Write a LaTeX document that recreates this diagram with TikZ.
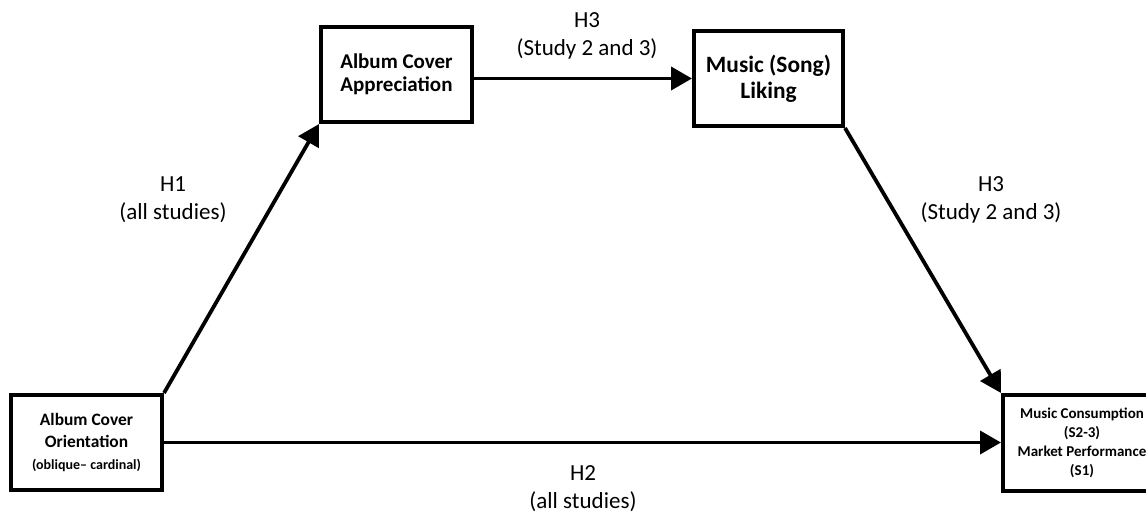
\documentclass[tikz,border=0pt]{standalone}
\usepackage{fontspec}
\setmainfont{Carlito}
\usetikzlibrary{arrows.meta}

\begin{document}
\begin{tikzpicture}[x=0.5pt, y=-0.5pt,
  box/.style={draw, line width=2pt, minimum width=75.5pt, minimum height=47.5pt, align=center, inner sep=2pt},
  link/.style={line width=1.9pt, -{Triangle[length=10.5pt, width=11.5pt]}},
  hyp/.style={align=center, font=\fontsize{11.5}{14}\selectfont}]
  \clip (0,0) rectangle (1146,515);
  \node[box, font=\bfseries\fontsize{8.7}{10.8}\selectfont] (orient) at (86.5,442.5) {Album Cover\\Orientation\\{\fontsize{7}{9}\selectfont (oblique– cardinal)}};
  \node[box, font=\bfseries\fontsize{10.5}{11.5}\selectfont] (apprec) at (396.5,74.5) {Album Cover\\Appreciation};
  \node[box, minimum width=74.5pt, font=\bfseries\fontsize{11.7}{12.8}\selectfont] (liking) at (768.5,78.5) {Music (Song)\\Liking};
  \node[box, minimum width=79pt, minimum height=48pt, font=\bfseries\fontsize{7.5}{9.5}\selectfont] (consum) at (1082,443) {Music Consumption\\(S2-3)\\Market Performance\\(S1)};
  \draw[link] (orient.north east) -- (apprec.south west);
  \draw[link] (apprec.east |- liking.west) -- (liking.west);
  \draw[link] (liking.south east) -- (consum.north west);
  \draw[link] (orient.east) -- (orient.east -| consum.west);
  \node[hyp] (h1) at (173,200) {H1\\(all studies)};
  \node[hyp] (h3top) at (587,36) {H3\\(Study 2 and 3)};
  \node[hyp] (h3right) at (991,200) {H3\\(Study 2 and 3)};
  \node[hyp] (h2) at (583,489) {H2\\(all studies)};
\end{tikzpicture}
\end{document}
